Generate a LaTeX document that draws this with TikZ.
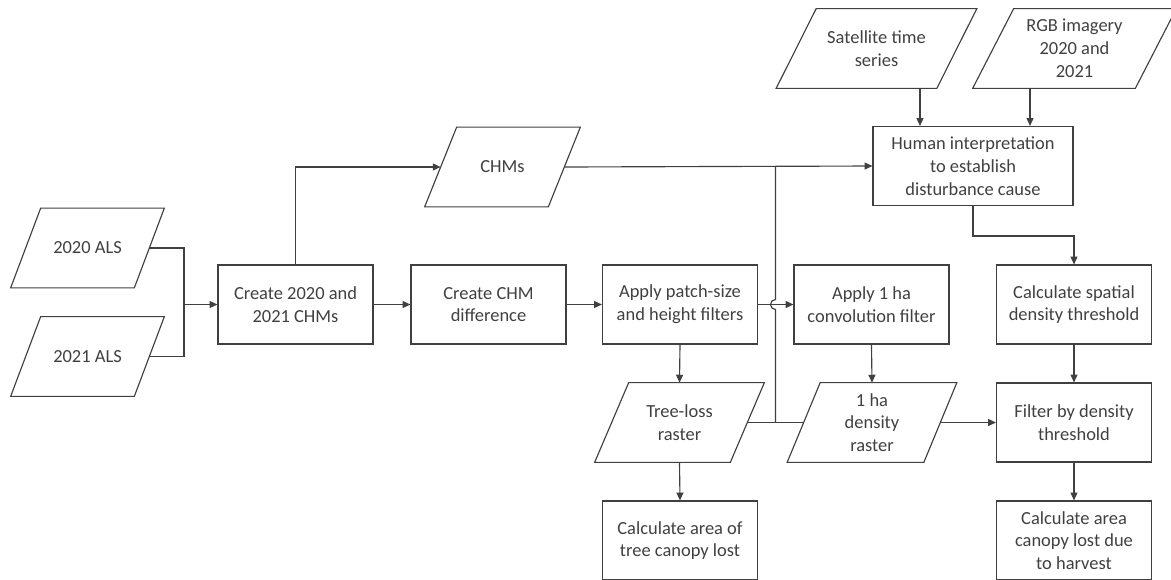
\documentclass[tikz,border=0pt]{standalone}
\usepackage{fontspec}
\setmainfont{Carlito}
\usepackage{tikz}
\usetikzlibrary{arrows.meta,calc,positioning}
\definecolor{Flow_Line}{HTML}{404040}
\definecolor{Flow_Text}{HTML}{404040}

\tikzset{
  procbox/.style={draw=Flow_Line, line width=0.65pt, rectangle, align=center,
    text=Flow_Text, minimum width=3.1cm, minimum height=1.58cm, inner sep=2pt,
    font=\fontsize{10.5}{13}\selectfont},
  % parallelogram: #1 = edge length, #2 = horizontal slant
  databox/.style 2 args={rectangle, align=center, text=Flow_Text,
    minimum width=#1, minimum height=1.58cm, inner sep=2pt,
    font=\fontsize{10.5}{13}\selectfont,
    append after command={\pgfextra{
      \draw[Flow_Line, line width=0.65pt, line join=miter]
        ([xshift=-#2/2]\tikzlastnode.south west) -- ([xshift=-#2/2]\tikzlastnode.south east)
        -- ([xshift=#2/2]\tikzlastnode.north east) -- ([xshift=#2/2]\tikzlastnode.north west)
        -- cycle;}}},
  link/.style={draw=Flow_Line, line width=0.65pt},
}

\begin{document}
\begin{tikzpicture}[>={Triangle[length=4.5pt,width=4pt]}, x=0.02cm, y=-0.02cm]
    \useasboundingbox (0,0) rectangle (1171,579);

    % ALS inputs
    \node[databox={2.46cm}{0.6cm}] (als20) at (87.5,248) {2020 ALS};
    \node[databox={2.46cm}{0.6cm}] (als21) at (87.5,356.5) {2021 ALS};

    % Main processing row
    \node[procbox] (mkchm) at (295.5,304.5) {Create 2020 and\\2021 CHMs};
    \node[procbox] (chmdiff) at (488.5,304.5) {Create CHM\\difference};
    \node[procbox] (patch) at (680,304.5) {Apply patch-size\\and height filters};
    \node[procbox] (conv) at (871.5,304.5) {Apply 1 ha\\convolution filter};
    \node[procbox] (spatial) at (1074,304.5) {Calculate spatial\\density threshold};

    % CHMs and interpretation
    \node[databox={2.46cm}{0.64cm}] (chms) at (502.5,167) {CHMs};
    \node[databox={3.2cm}{0.8cm}] (sat) at (876.5,48.5) {Satellite time\\series};
    \node[databox={3.24cm}{0.82cm}] (rgb) at (1074.5,48.5) {RGB imagery\\2020 and\\2021};
    \node[procbox, minimum width=4.0cm] (human) at (973,166) {Human interpretation\\to establish\\disturbance cause};

    % Rasters
    \node[databox={2.7cm}{0.68cm}] (treeloss) at (679.5,422.5) {Tree-loss\\raster};
    \node[databox={2.72cm}{0.66cm}] (density) at (872,422.5) {1 ha\\density\\raster};
    \node[procbox] (filter) at (1074,422.5) {Filter by density\\threshold};

    % Outputs
    \node[procbox] (areatree) at (680,540.5) {Calculate area of\\tree canopy lost};
    \node[procbox] (areaharv) at (1074,540.5) {Calculate area\\canopy lost due\\to harvest};

    % Connectors
    \coordinate (jals) at (184,304.5);
    \draw[link] (als20.east) -| (jals);
    \draw[link] (als21.east) -| (jals);
    \draw[link, ->] (jals) -- (mkchm.west);
    \draw[link, ->] (mkchm.north) |- (chms.west);
    \draw[link, ->] (mkchm.east) -- (chmdiff.west);
    \draw[link, ->] (chmdiff.east) -- (patch.west);
    \draw[link, ->] (patch.east) -- (conv.west);
    \draw[link, ->] (chms.east) -- (human.west);
    \draw[link, ->] ([xshift=0.87cm]sat.south) -- ([xshift=0.87cm]sat.south |- human.north);
    \draw[link, ->] ([xshift=-0.89cm]rgb.south) -- ([xshift=-0.89cm]rgb.south |- human.north);
    \draw[link, ->] (human.south) -- ++(0,-0.6cm) -| (spatial.north);
    \draw[link, ->] (spatial.south) -- (filter.north);
    \draw[link, ->] (patch.south) -- (treeloss.north);
    \draw[link, ->] (conv.south) -- (density.north);
    \draw[link, ->] (treeloss.south) -- (areatree.north);
    \draw[link, ->] (filter.south) -- (areaharv.north);
    \draw[link, ->] (density.east) -- (filter.west);

    % Rasters back to interpretation (hop over the filter arrow)
    \coordinate (jlow) at ($(treeloss.east)!0.5!(density.west)$);
    \coordinate (jtop) at (jlow |- chms.east);
    \draw[link] (treeloss.east) -- (density.west);
    \draw[link] (jlow) -- ($(jlow |- patch.east)+(0,5)$)
        arc[start angle=270, end angle=90, radius=0.1cm] -- (jtop);

\end{tikzpicture}
\end{document}
